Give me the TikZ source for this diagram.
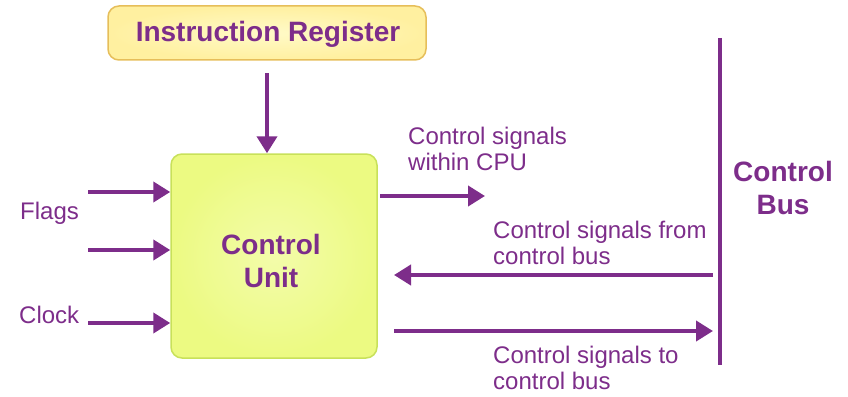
\documentclass[tikz,border=0pt]{standalone}
\usepackage{fontspec}
\setmainfont{Liberation Sans}
\usetikzlibrary{arrows.meta}
\definecolor{pur}{RGB}{125,45,138}
\definecolor{irfill}{RGB}{255,240,160}
\definecolor{irin}{RGB}{255,250,200}
\definecolor{irdraw}{RGB}{230,190,90}
\definecolor{cufill}{RGB}{236,250,130}
\definecolor{cuin}{RGB}{243,252,170}
\definecolor{cudraw}{RGB}{200,225,90}
\tikzset{
  sig/.style={draw=pur, line width=4pt, -{Triangle[length=17pt,width=20pt]}},
  lbl/.style={text=pur, font=\fontsize{24}{26}\selectfont, align=left, inner sep=0pt},
  title/.style={text=pur, font=\fontsize{28}{33}\selectfont\bfseries, align=center, inner sep=0pt},
}
\begin{document}
\begin{tikzpicture}[x=1pt,y=-1pt]
\useasboundingbox (0,0) rectangle (848,396);
\node[draw=irdraw, line width=1.5pt, rounded corners=11pt, inner color=irin, outer color=irfill,
  minimum width=318pt, minimum height=54pt] (ir) at (267,33) {};
\node[title, anchor=north] at (268,21) {Instruction Register};
\node[draw=cudraw, line width=1.5pt, rounded corners=11pt, inner color=cuin, outer color=cufill,
  minimum width=206pt, minimum height=204pt] (cu) at (274,256) {};
\node[title, anchor=north] (cut) at (271,234) {Control\\Unit};
\coordinate (irs) at (267,73);
\draw[sig] (irs) -- (cu.north -| irs);
\coordinate (f1) at (88,192);
\coordinate (f2) at (88,250);
\coordinate (ck) at (88,323);
\draw[sig] (f1) -- (f1 -| cu.west);
\draw[sig] (f2) -- (f2 -| cu.west);
\draw[sig] (ck) -- (ck -| cu.west);
\node[lbl, anchor=north west] (flags) at (20,202) {Flags};
\node[lbl, anchor=north west] (clock) at (19,306) {Clock};
% bus
\coordinate (bt) at (720,38);
\coordinate (bb) at (720,365);
\draw[pur, line width=3.5pt] (bt) -- (bb);
\node[title, anchor=north] (bus) at (783,161) {Control\\Bus};
\coordinate (w1) at (380,196);
\coordinate (w2) at (485,196);
\draw[sig] (w1) -- (w2);
\node[lbl, anchor=north west] (wl) at (408,127) {Control signals\\within CPU};
\coordinate (fb1) at (713,275);
\coordinate (fb2) at (394,275);
\draw[sig] (fb1) -- (fb2);
\node[lbl, anchor=north west] (fl) at (493,221) {Control signals from\\control bus};
\coordinate (tb1) at (394,331);
\coordinate (tb2) at (713,331);
\draw[sig] (tb1) -- (tb2);
\node[lbl, anchor=north west] (tl) at (493,346) {Control signals to\\control bus};
\end{tikzpicture}
\end{document}
